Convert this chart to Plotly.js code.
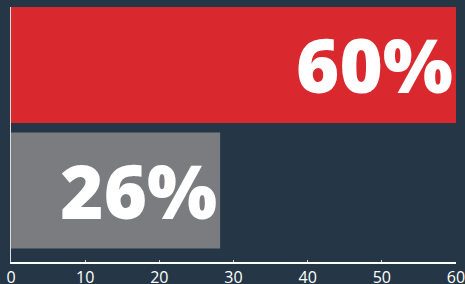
<!DOCTYPE html>
<html>
<head>
<meta charset="utf-8">
<script src="https://cdn.plot.ly/plotly-3.0.1.min.js"></script>
<style>html,body{margin:0;padding:0;background:#253746;}#chart{width:465px;height:284px;}</style>
</head>
<body>
<div id="chart"></div>
<script>
var categories = ['B', 'A'];
var values = [28.2, 60];
var labels = ['26%', '60%'];
var colors = ['#7a7c7f', '#d9292f'];

var trace = {
  type: 'bar',
  orientation: 'h',
  y: [0, 1],
  x: values,
  text: labels,
  textposition: 'inside',
  insidetextanchor: 'end',
  textfont: {family: 'Open Sans', size: 74, color: '#ffffff', weight: 800},
  marker: {color: colors, line: {width: 0}},
  width: 0.924,
  hoverinfo: 'none',
  cliponaxis: false
};

var layout = {
  width: 465,
  height: 284,
  margin: {l: 11, r: 9, t: 7, b: 22},
  paper_bgcolor: '#253746',
  plot_bgcolor: '#253746',
  showlegend: false,
  xaxis: {
    range: [0, 60],
    tickvals: [0, 10, 20, 30, 40, 50, 60],
    showgrid: false,
    zeroline: false,
    showline: true,
    linecolor: '#ffffff',
    linewidth: 2,
    ticks: 'inside',
    ticklen: 2,
    tickcolor: '#cccccc',
    ticklabeloverflow: 'allow',
    automargin: false,
    tickfont: {family: 'Open Sans', size: 16, color: '#ffffff'}
  },
  yaxis: {
    range: [-0.57, 1.462],
    showticklabels: false,
    showgrid: false,
    zeroline: false,
    showline: true,
    linecolor: '#dddddd',
    linewidth: 1.5,
    ticks: ''
  }
};

Plotly.newPlot('chart', [trace], layout, {displayModeBar: false, staticPlot: true});
</script>
</body>
</html>
